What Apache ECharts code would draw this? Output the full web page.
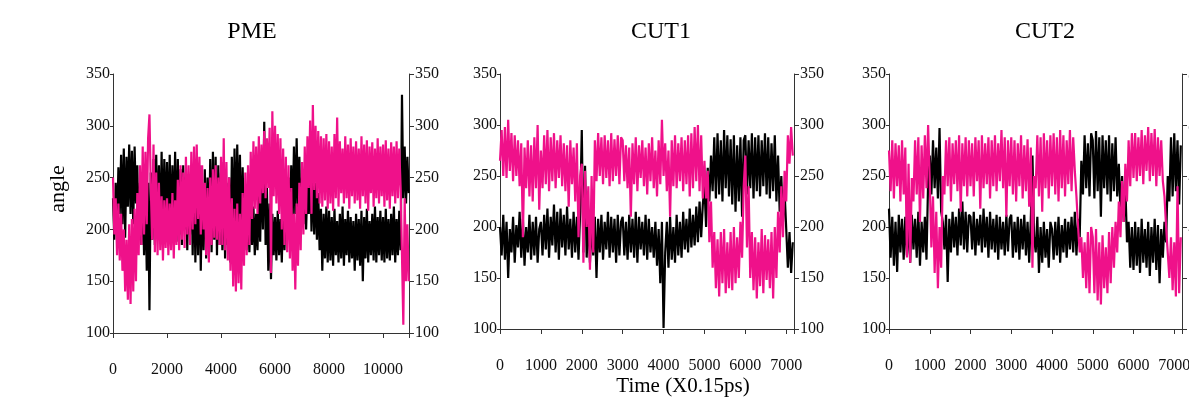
<!DOCTYPE html>
<html>
<head>
    <meta charset="utf-8">
    <script src="https://cdn.jsdelivr.net/npm/echarts@6/dist/echarts.min.js"></script>
    <style>
        html, body { margin: 0; padding: 0; background: #fff; overflow: hidden; }
        #main { width: 1189px; height: 398px; }
    </style>
</head>
<body>
<div id="main"></div>
<script>
    // sampling step of each run (time units of X0.15ps)
    var PME_STEP = 50;
    var CUT_STEP = 40;

    var panelTitles = ['PME', 'CUT1', 'CUT2'];
    var xMax = [10960, 7190, 7190];
    var xInterval = [2000, 1000, 1000];
    var yTicks = [100, 150, 200, 250, 300, 350];

    // angle traces, one row per 1000 time units
    var pmeBlack = [
        230,190,245,200,260,215,272,205,278,192,270,222,282,215,276,205,280,225,262,190,
        245,185,250,175,235,160,245,122,255,190,268,185,272,200,262,190,275,195,268,205,
        265,195,272,190,262,200,275,188,268,195,258,185,262,200,250,180,245,195,262,175,
        255,168,245,175,262,160,240,180,258,172,250,185,268,178,275,190,270,175,262,185,
        255,180,265,172,245,185,250,168,270,190,278,195,282,205,272,190,260,200,240,180,
        225,178,230,185,222,175,215,180,232,188,265,200,304,185,240,160,225,152,215,175,
        212,170,218,175,210,168,220,180,235,190,250,200,262,205,280,215,288,220,270,205,
        250,205,258,200,245,215,262,198,255,195,245,190,235,180,220,160,215,172,222,168,
        218,170,212,165,220,175,208,168,215,172,222,165,210,175,218,168,212,172,208,160,
        215,170,210,165,218,150,212,172,220,168,208,175,215,170,222,168,212,175,218,170,
        212,168,220,172,210,170,215,175,222,168,210,175,218,180,330,230,280,225,270,235
    ];
    var pmeMagenta = [
        250,195,230,175,225,170,215,160,200,140,190,132,205,128,210,140,220,150,235,175,
        262,185,280,195,275,205,288,311,240,190,282,178,255,175,245,180,232,170,228,182,
        230,175,225,180,235,172,228,185,248,180,262,190,255,182,270,195,262,185,275,200,
        280,205,282,210,270,195,262,200,245,175,240,168,250,185,258,192,262,190,250,185,
        270,185,288,180,265,170,250,160,230,145,220,140,225,148,215,142,235,165,255,175,
        262,185,275,210,285,220,280,215,290,225,282,235,295,230,288,240,298,158,314,232,
        300,225,292,215,288,200,278,185,270,178,262,172,240,160,215,142,225,165,245,180,
        265,195,280,215,290,240,305,215,320,238,300,230,295,225,290,222,288,228,292,220,
        285,225,280,218,292,230,308,222,285,235,278,225,290,230,282,220,288,232,280,225,
        285,228,278,220,290,232,282,225,286,218,280,235,284,222,278,230,288,225,280,232,
        282,222,286,228,278,220,284,232,280,225,285,230,278,240,175,108,230,150,205,150
    ];
    var cut1Black = [
        200,172,212,168,205,150,198,175,210,165,202,180,215,170,208,162,200,175,212,168,205,172,210,165,198,
        205,172,212,178,218,170,210,182,222,175,215,168,218,180,212,172,220,178,208,170,215,175,210,168,215,
        295,175,260,170,212,165,205,172,210,150,208,175,212,168,205,178,215,170,210,175,208,165,212,172,205,
        210,172,205,168,212,175,208,170,215,165,210,178,205,172,212,168,208,175,200,170,205,162,198,145,205,
        101,175,205,160,210,168,200,165,212,172,205,170,215,178,208,175,218,180,212,182,220,185,225,190,222,
        240,200,258,225,270,235,288,228,292,232,285,225,295,238,290,230,286,222,290,215,280,225,288,210,285,
        290,232,285,238,292,228,288,235,290,230,285,240,292,232,288,228,282,235,290,225,270,215,250,205,235,
        198,160,195,155,185
    ];
    var cut1Magenta = [
        265,295,250,298,248,305,255,292,245,290,250,285,240,282,190,278,238,285,230,280,225,288,238,300,217,
        275,238,290,242,295,235,288,245,292,238,285,248,290,240,282,235,280,220,285,242,278,225,282,190,250,
        262,165,255,200,240,158,250,175,285,245,292,250,288,242,290,248,285,240,292,245,286,250,290,242,288,
        285,245,280,238,278,210,282,242,288,235,280,248,285,240,278,232,282,245,288,238,275,230,285,242,305,
        250,282,235,275,210,285,240,290,238,282,245,288,235,285,242,290,230,292,238,298,245,300,235,290,228,
        265,228,255,185,225,160,195,140,188,132,195,145,198,135,185,140,195,138,200,145,190,150,205,170,240,
        270,180,240,150,195,138,190,130,185,142,198,135,192,148,188,140,195,130,200,150,215,175,240,190,255,
        225,290,262,298,270
    ];
    var cut2Black = [
        218,170,210,162,205,156,212,175,208,168,210,172,205,165,212,178,208,170,215,162,205,175,210,168,245,
        270,232,285,238,278,228,297,215,205,178,212,146,208,175,215,180,210,172,218,182,225,178,215,175,212,
        210,178,215,172,208,182,212,175,218,180,210,170,215,178,208,175,212,168,210,178,205,172,212,176,208,
        212,170,205,175,210,168,208,178,212,172,205,165,208,270,190,175,210,155,200,165,205,170,198,160,205,
        198,168,205,172,210,165,202,175,208,170,205,178,210,175,215,172,208,190,265,232,290,238,282,230,292,
        285,228,294,235,288,210,290,238,285,232,290,225,282,235,288,230,262,215,250,205,240,185,205,160,200,
        158,205,162,200,155,208,165,198,160,205,152,200,165,208,158,202,145,198,170,205,185,250,225,288,230,
        292,235,285,222,280
    ];
    var cut2Magenta = [
        275,235,285,228,282,240,280,225,285,232,278,170,262,165,248,225,285,232,288,205,280,228,290,238,300,
        245,180,230,155,215,140,200,160,250,232,285,240,288,225,282,242,285,235,290,215,282,240,288,230,285,
        240,282,230,288,245,285,218,290,238,282,242,288,228,285,240,290,235,282,245,295,238,288,210,285,240,
        288,232,285,225,282,240,290,228,280,235,286,220,278,160,250,238,290,230,288,215,292,238,285,228,290,
        240,292,232,288,225,295,238,290,230,285,242,295,235,288,255,230,200,175,190,150,185,140,195,135,200,
        190,135,198,128,185,124,192,140,180,135,195,145,200,160,205,175,225,190,245,205,262,225,285,240,292,
        248,292,245,288,250,295,242,290,255,298,245,292,250,296,240,288,250,285,245,230,200,175,150,190,138,
        185,132,240,135,190
    ];

    var runs = [
        {step: PME_STEP, black: pmeBlack, magenta: pmeMagenta},
        {step: CUT_STEP, black: cut1Black, magenta: cut1Magenta},
        {step: CUT_STEP, black: cut2Black, magenta: cut2Magenta}
    ];

    var SERIF = '"Liberation Serif", "Times New Roman", serif';
    var AXIS_COLOR = '#333';
    var MAGENTA = '#ef118a';

    function toPairs(vals, step) {
        return vals.map(function (v, i) { return [i * step, v]; });
    }

    var grids = [
        {left: 113, top: 74, width: 296, height: 259, outerBoundsMode: 'none', containLabel: false},
        {left: 500, top: 74, width: 294, height: 255, outerBoundsMode: 'none', containLabel: false},
        {left: 889, top: 74, width: 293, height: 255, outerBoundsMode: 'none', containLabel: false}
    ];

    var xAxes = [], yAxes = [], series = [];
    grids.forEach(function (g, i) {
        xAxes.push({
            type: 'value',
            gridIndex: i,
            min: 0,
            max: xMax[i],
            interval: xInterval[i],
            axisLine: {lineStyle: {color: AXIS_COLOR, width: 1}},
            axisTick: {length: 5, lineStyle: {color: AXIS_COLOR}},
            axisLabel: {
                margin: 29,
                color: '#111',
                fontFamily: SERIF,
                fontSize: 16,
                formatter: function (v) { return v % xInterval[i] === 0 ? String(v) : ''; }
            },
            splitLine: {show: false}
        });
        ['left', 'right'].forEach(function (side) {
            yAxes.push({
                type: 'value',
                gridIndex: i,
                position: side,
                min: yTicks[0],
                max: yTicks[yTicks.length - 1],
                interval: 50,
                axisLine: {show: true, onZero: false, lineStyle: {color: AXIS_COLOR, width: 1}},
                axisTick: {show: true, length: side === 'left' ? 3 : 5, lineStyle: {color: AXIS_COLOR}},
                axisLabel: {
                    margin: side === 'left' ? 3 : 6,
                    color: '#111',
                    fontFamily: SERIF,
                    fontSize: 16,
                    padding: [9, 0, 0, 0]
                },
                splitLine: {show: false}
            });
        });
        series.push({
            type: 'line',
            xAxisIndex: i,
            yAxisIndex: i * 2,
            data: toPairs(runs[i].black, runs[i].step),
            showSymbol: false,
            symbol: 'none',
            lineStyle: {color: '#000', width: 2.2, join: 'bevel'},
            z: 2
        });
        series.push({
            type: 'line',
            xAxisIndex: i,
            yAxisIndex: i * 2,
            data: toPairs(runs[i].magenta, runs[i].step),
            showSymbol: false,
            symbol: 'none',
            lineStyle: {color: MAGENTA, width: 2.2, join: 'bevel'},
            z: 3
        });
    });

    var titleX = [252, 661, 1045];
    var graphics = panelTitles.map(function (t, i) {
        return {
            type: 'text', x: titleX[i], y: 32,
            style: {text: t, font: '24px ' + SERIF, fill: '#000', textAlign: 'center', textVerticalAlign: 'middle'}
        };
    });
    graphics.push({
        type: 'text', x: 58, y: 189, rotation: Math.PI / 2,
        style: {text: 'angle', font: '22px ' + SERIF, fill: '#000', textAlign: 'center', textVerticalAlign: 'middle'}
    });
    graphics.push({
        type: 'text', x: 683, y: 386,
        style: {text: 'Time (X0.15ps)', font: '21px ' + SERIF, fill: '#000', textAlign: 'center', textVerticalAlign: 'middle'}
    });

    var chart = echarts.init(document.getElementById('main'), null, {renderer: 'canvas'});
    chart.setOption({
        animation: false,
        backgroundColor: '#fff',
        grid: grids,
        xAxis: xAxes,
        yAxis: yAxes,
        series: series,
        graphic: graphics
    });
</script>
</body>
</html>
